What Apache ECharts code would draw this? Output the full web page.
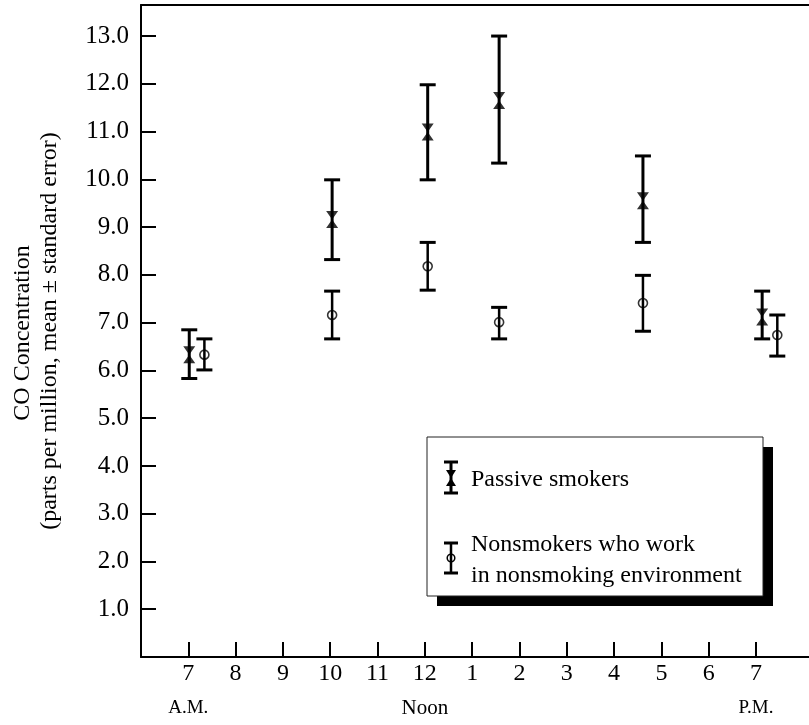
<!DOCTYPE html>
<html>
<head>
<meta charset="utf-8">
<script src="https://cdn.jsdelivr.net/npm/echarts@6/dist/echarts.min.js"></script>
<style>
  html, body { margin: 0; padding: 0; background: #fff; }
  #chart { width: 809px; height: 725px; }
</style>
</head>
<body>
<div id="chart"></div>
<script>
// ---- data ----
const tickHours = [7, 8, 9, 10, 11, 12, 13, 14, 15, 16, 17, 18, 19];
const yTicks = [1, 2, 3, 4, 5, 6, 7, 8, 9, 10, 11, 12, 13];

const passiveHours = [7.02, 10.04, 12.06, 13.57, 16.61, 19.13];
const passiveMean  = [6.33, 9.16, 10.99, 11.65, 9.55, 7.12];
const passiveLow   = [5.83, 8.32, 9.99, 10.34, 8.68, 6.66];
const passiveHigh  = [6.85, 9.99, 11.98, 13.00, 10.49, 7.66];

const nonHours = [7.34, 10.04, 12.06, 13.57, 16.61, 19.45];
const nonMean  = [6.33, 7.16, 8.18, 7.01, 7.41, 6.74];
const nonLow   = [6.01, 6.66, 7.68, 6.66, 6.82, 6.30];
const nonHigh  = [6.66, 7.66, 8.68, 7.32, 7.99, 7.16];

const FONT = "'Liberation Serif', 'Times New Roman', serif";
const HOURGLASS = 'path://M0,0 L10,0 L5,8 L10,16 L0,16 L5,8 Z';

function errRender(capW, stemW, capLW) {
  return function (params, api) {
    const x = api.value(0), lo = api.value(1), hi = api.value(2);
    const p1 = api.coord([x, lo]);
    const p2 = api.coord([x, hi]);
    const st = (lw) => ({ stroke: '#000', lineWidth: lw });
    return {
      type: 'group',
      children: [
        { type: 'line', shape: { x1: p1[0], y1: p1[1], x2: p2[0], y2: p2[1] }, style: st(stemW) },
        { type: 'line', shape: { x1: p1[0] - capW / 2, y1: p1[1], x2: p1[0] + capW / 2, y2: p1[1] }, style: st(capLW) },
        { type: 'line', shape: { x1: p2[0] - capW / 2, y1: p2[1], x2: p2[0] + capW / 2, y2: p2[1] }, style: st(capLW) }
      ]
    };
  };
}

const chart = echarts.init(document.getElementById('chart'), null, { renderer: 'canvas' });

const option = {
  backgroundColor: '#fff',
  animation: false,
  grid: { left: 141, top: 5, right: 0, bottom: 64, containLabel: false },
  xAxis: [
    {
      type: 'value', min: 6, max: 20.12, interval: 1,
      axisLine: { show: true, onZero: false, lineStyle: { color: '#000', width: 2 } },
      axisTick: { show: true, inside: true, length: 15, customValues: tickHours, lineStyle: { color: '#000', width: 2 } },
      axisLabel: {
        show: true, customValues: tickHours, margin: 0, verticalAlign: 'top',
        color: '#000', fontFamily: FONT, fontSize: 24, lineHeight: 34,
        formatter: function (v) {
          const h = v > 12 ? v - 12 : v;
          if (v === 7) return h + '\n{s|A.M.}';
          if (v === 12) return h + '\n{n|Noon}';
          if (v === 19) return h + '\n{s|P.M.}';
          return '' + h;
        },
        rich: {
          s: { fontFamily: FONT, fontSize: 19, lineHeight: 34, color: '#000' },
          n: { fontFamily: FONT, fontSize: 21, lineHeight: 34, color: '#000' }
        }
      },
      splitLine: { show: false }
    },
    {
      type: 'value', position: 'top', min: 6, max: 20.12,
      axisLine: { show: true, onZero: false, lineStyle: { color: '#000', width: 2 } },
      axisTick: { show: false }, axisLabel: { show: false }, splitLine: { show: false }
    }
  ],
  yAxis: {
    type: 'value', min: 0, max: 13.65, interval: 1,
    axisLine: { show: true, onZero: false, lineStyle: { color: '#000', width: 2 } },
    axisTick: { show: true, inside: true, length: 15, customValues: yTicks, lineStyle: { color: '#000', width: 2 } },
    axisLabel: {
      show: true, customValues: yTicks, margin: 12,
      color: '#000', fontFamily: FONT, fontSize: 25,
      formatter: (v) => v.toFixed(1)
    },
    splitLine: { show: false }
  },
  series: [
    {
      name: 'Passive smokers (SE)', type: 'custom', xAxisIndex: 0,
      renderItem: errRender(16, 3, 3),
      encode: { x: 0, y: [1, 2] },
      data: passiveHours.map((h, i) => [h, passiveLow[i], passiveHigh[i]]),
      z: 2
    },
    {
      name: 'Nonsmokers (SE)', type: 'custom', xAxisIndex: 0,
      renderItem: errRender(16, 2.5, 3),
      encode: { x: 0, y: [1, 2] },
      data: nonHours.map((h, i) => [h, nonLow[i], nonHigh[i]]),
      z: 2
    },
    {
      name: 'Passive smokers', type: 'scatter', xAxisIndex: 0,
      symbol: HOURGLASS, symbolSize: [12, 17],
      itemStyle: { color: '#000' },
      data: passiveHours.map((h, i) => [h, passiveMean[i]]),
      z: 3
    },
    {
      name: 'Nonsmokers who work in nonsmoking environment', type: 'scatter', xAxisIndex: 0,
      symbol: 'circle', symbolSize: 9,
      itemStyle: { color: 'rgba(255,255,255,0)', borderColor: '#000', borderWidth: 1.6 },
      data: nonHours.map((h, i) => [h, nonMean[i]]),
      z: 3
    }
  ],
  graphic: [
    // y-axis title
    { type: 'text', x: 23, y: 333, rotation: Math.PI / 2,
      style: { text: 'CO Concentration', fontFamily: FONT, fontSize: 24, fill: '#000', align: 'center', verticalAlign: 'middle' } },
    { type: 'text', x: 50, y: 331, rotation: Math.PI / 2,
      style: { text: '(parts per million, mean \u00b1 standard error)', fontFamily: FONT, fontSize: 24, fill: '#000', align: 'center', verticalAlign: 'middle' } },
    // legend box with shadow
    { type: 'rect', shape: { x: 437, y: 447, width: 336, height: 159 }, style: { fill: '#000' }, z: 10 },
    { type: 'rect', shape: { x: 427, y: 437, width: 336, height: 159 }, style: { fill: '#fff', stroke: '#222', lineWidth: 1 }, z: 11 },
    // legend icon 1
    { type: 'group', z: 12, children: [
      { type: 'line', shape: { x1: 451, y1: 462, x2: 451, y2: 493 }, style: { stroke: '#000', lineWidth: 3 }, z: 12 },
      { type: 'line', shape: { x1: 444, y1: 462, x2: 458, y2: 462 }, style: { stroke: '#000', lineWidth: 3 }, z: 12 },
      { type: 'line', shape: { x1: 444, y1: 493, x2: 458, y2: 493 }, style: { stroke: '#000', lineWidth: 3 }, z: 12 },
      { type: 'polygon', shape: { points: [[446, 470], [456, 470], [451, 478], [456, 486], [446, 486], [451, 478]] }, style: { fill: '#000' }, z: 12 }
    ] },
    { type: 'text', x: 471, y: 480, z: 12,
      style: { text: 'Passive smokers', fontFamily: FONT, fontSize: 24, fill: '#000', align: 'left', verticalAlign: 'middle' } },
    // legend icon 2
    { type: 'group', z: 12, children: [
      { type: 'line', shape: { x1: 451, y1: 543, x2: 451, y2: 573 }, style: { stroke: '#000', lineWidth: 2.5 }, z: 12 },
      { type: 'line', shape: { x1: 444, y1: 543, x2: 458, y2: 543 }, style: { stroke: '#000', lineWidth: 3 }, z: 12 },
      { type: 'line', shape: { x1: 444, y1: 573, x2: 458, y2: 573 }, style: { stroke: '#000', lineWidth: 3 }, z: 12 },
      { type: 'circle', shape: { cx: 451, cy: 558, r: 3.8 }, style: { fill: 'rgba(255,255,255,0)', stroke: '#000', lineWidth: 1.5 }, z: 12 }
    ] },
    { type: 'text', x: 471, y: 545, z: 12,
      style: { text: 'Nonsmokers who work', fontFamily: FONT, fontSize: 24, fill: '#000', align: 'left', verticalAlign: 'middle' } },
    { type: 'text', x: 471, y: 576, z: 12,
      style: { text: 'in nonsmoking environment', fontFamily: FONT, fontSize: 24, fill: '#000', align: 'left', verticalAlign: 'middle' } }
  ]
};

chart.setOption(option);
</script>
</body>
</html>
